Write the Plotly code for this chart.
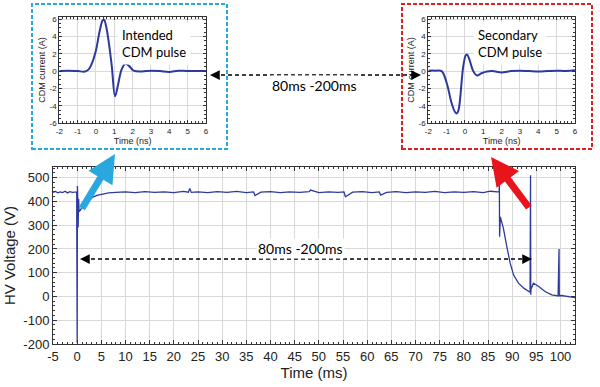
import plotly.graph_objects as go

# ---------------- data ----------------
main_t = [-5, -4.5, -4, -3.5, -3, -2.5, -2, -1.5, -1, -0.5, -0.1, 0, 0.05, 0.1, 0.15, 0.2, 0.3, 0.35, 0.4,
          0.6, 0.9, 1.3, 2, 2.7, 3.3, 4.3, 5.4, 6.5, 8, 10, 12, 14, 16, 18, 20, 22, 23, 23.3, 23.6,
          25, 27, 29, 31, 33, 35, 36.5, 36.8, 38, 40, 42, 44, 46, 48, 48.3, 50, 52, 54, 55.2, 55.5,
          57, 59, 61, 62.5, 62.8, 64, 66, 68, 70, 72, 74, 76, 78, 80, 82, 84, 85.5, 87, 87.3,
          87.35, 87.4, 87.55, 88.2, 88.9, 89.6, 90.3, 91.3, 92.4, 93.4, 93.7, 93.8, 93.85, 93.9,
          94.4, 95.5, 96.8, 98.2, 99.5, 99.7, 99.75, 99.8, 100.2, 101, 102, 103]
main_v = [438, 442, 436, 440, 437, 443, 436, 441, 438, 440, 440, -195, 465, 330, 400, 290, 410, 350, 358,
          362, 370, 385, 398, 410, 419, 427, 433, 436, 438, 440, 437, 441, 438, 440, 437, 442, 439, 455, 438,
          440, 437, 441, 438, 442, 437, 440, 425, 439, 441, 437, 440, 438, 441, 448, 437, 440, 438, 440, 420,
          439, 441, 437, 440, 427, 438, 441, 437, 440, 438, 442, 437, 440, 438, 441, 437, 443, 440, 440,
          482, 251, 335, 286, 209, 139, 90, 56, 35, 21, 18, 510, 7, 30,
          56, 42, 21, 7, 2, 200, 8, 3, 4, 0, -2, -5]

left_t = [-2, -1.5, -1, -0.6, -0.4, -0.2, 0.0, 0.2, 0.35, 0.44, 0.55, 0.7, 0.86, 1.04, 1.2, 1.4,
          1.6, 1.8, 2.05, 2.5, 3, 3.5, 4, 4.5, 5, 5.5, 6]
left_i = [0, 0.05, 0, -0.05, 0.2, 1.0, 2.4, 4.6, 5.8, 5.95, 5.2, 3.3, 0.6, -2.9, -1.6, 0.2,
          0.85, 0.6, 0.05, -0.05, 0.05, 0.0, -0.1, 0.05, 0.0, 0.0, 0.0]

right_t = [-2, -1.6, -1.27, -1.0, -0.73, -0.55, -0.45, -0.35, -0.27, -0.09, 0.05, 0.12, 0.24, 0.45,
           0.65, 0.9, 1.2, 1.5, 2, 2.5, 3, 3.5, 4, 4.5, 5, 5.5, 6]
right_i = [0.05, 0.05, 0, -1.35, -3.7, -4.7, -4.9, -4.5, -3.3, 0.6, 1.85, 1.9, 1.35, 0.0,
           -0.5, -0.25, -0.05, 0.0, -0.15, 0, 0.05, 0, -0.05, 0, 0.05, 0, 0.1]

main_xticks = list(range(-5, 101, 5))
main_yticks = list(range(-200, 501, 100))
inset_xticks = list(range(-2, 7))
inset_yticks = list(range(-6, 7, 2))

# ---------------- figure ----------------
W, H = 600, 387
def px(x):
    return x / W
def py(y):
    return 1 - y / H

LINE = "#2D3A9C"
GRID = "#d9d9d9"
TXT = "#222222"

fig = go.Figure()
fig.add_trace(go.Scatter(x=main_t, y=main_v, mode="lines", line=dict(color=LINE, width=1.3),
                         xaxis="x", yaxis="y", hoverinfo="skip"))
fig.add_trace(go.Scatter(x=left_t, y=left_i, mode="lines", line=dict(color=LINE, width=2, shape="spline"),
                         xaxis="x2", yaxis="y2", hoverinfo="skip"))
fig.add_trace(go.Scatter(x=right_t, y=right_i, mode="lines", line=dict(color=LINE, width=2, shape="spline"),
                         xaxis="x3", yaxis="y3", hoverinfo="skip"))

def ax_style(tickvals, rng, domain, anchor, fsize, tsize, title, tlen, mdt, standoff):
    return dict(range=rng, domain=domain, anchor=anchor, automargin=False,
                tickmode="array", tickvals=tickvals, ticktext=[str(v) for v in tickvals],
                showgrid=True, gridcolor=GRID, gridwidth=1, zeroline=False,
                showline=True, linecolor="#333333", linewidth=1, mirror="allticks",
                ticks="inside", ticklen=tlen, tickcolor="#333333",
                minor=dict(dtick=mdt, ticks="inside", ticklen=max(2, tlen - 2), tickcolor="#333333", showgrid=False),
                tickfont=dict(family="Liberation Sans, Arial", size=fsize, color=TXT),
                title=dict(text=title, font=dict(family="Liberation Sans, Arial", size=tsize, color=TXT),
                           standoff=standoff))

main_xd = [px(53), px(575)]
main_yd = [py(344), py(167)]
in1_xd = [px(59.3), px(206)]
in2_xd = [px(428.3), px(575)]
in_yd = [py(123), py(17)]

fig.update_layout(
    width=W, height=H, margin=dict(l=0, r=0, t=0, b=0, autoexpand=False),
    paper_bgcolor="white", plot_bgcolor="white", showlegend=False,
    xaxis=ax_style(main_xticks, [-5, 103], main_xd, "y", 13, 15, "Time (ms)", 4, 1, 2),
    yaxis=ax_style(main_yticks, [-200, 545], main_yd, "x", 13, 15, "HV Voltage (V)", 4, 20, 4),
    xaxis2=ax_style(inset_xticks, [-2, 6], in1_xd, "y2", 8, 9, "Time (ns)", 3, 0.2, 1),
    yaxis2=ax_style(inset_yticks, [-6, 6.25], in_yd, "x2", 8, 9, "CDM current (A)", 3, 0.5, 2),
    xaxis3=ax_style(inset_xticks, [-2, 6], in2_xd, "y3", 8, 9, "Time (ns)", 3, 0.2, 1),
    yaxis3=ax_style(inset_yticks, [-6, 6.25], in_yd, "x3", 8, 9, "CDM current (A)", 3, 0.5, 2),
)

shapes = [
    dict(type="rect", xref="paper", yref="paper", x0=px(32), x1=px(227), y0=py(149), y1=py(4),
         line=dict(color="#29A8E0", width=2, dash="4px,2px")),
    dict(type="rect", xref="paper", yref="paper", x0=px(402), x1=px(592), y0=py(149), y1=py(4),
         line=dict(color="#E02020", width=2, dash="4px,2px")),
    dict(type="line", xref="paper", yref="paper", x0=px(214), x1=px(416), y0=py(75), y1=py(75),
         line=dict(color="black", width=1.5, dash="4px,3px")),
    dict(type="line", xref="paper", yref="paper", x0=px(84), x1=px(528), y0=py(259), y1=py(259),
         line=dict(color="black", width=1.5, dash="4px,3px")),
]
fig.update_layout(shapes=shapes)

ann = []
TF = "Lato, Open Sans, sans-serif"
# dashed arrow heads
for (hx, hy, dx) in [(210, 75, 8), (421, 75, -8), (80, 259, 8), (532, 259, -8)]:
    ann.append(dict(xref="paper", yref="paper", x=px(hx), y=py(hy), ax=dx, ay=0, text="",
                    showarrow=True, arrowhead=2, arrowsize=1.3, arrowwidth=1.5, arrowcolor="black"))
ann.append(dict(xref="paper", yref="paper", x=px(314), y=py(75), text="80ms -200ms", showarrow=False,
                font=dict(family=TF, size=14, color="black"), bgcolor="white", borderpad=1))
ann.append(dict(xref="paper", yref="paper", x=px(300), y=py(259), text="80ms -200ms", showarrow=False,
                font=dict(family=TF, size=14, color="black"), bgcolor="white", borderpad=1))
# big coloured arrows
ann.append(dict(xref="paper", yref="paper", x=px(115), y=py(154), ax=81 - 115, ay=210 - 154, text="",
                showarrow=True, arrowhead=2, arrowsize=0.8, arrowwidth=7, arrowcolor="#29A8E0"))
ann.append(dict(xref="paper", yref="paper", x=px(491), y=py(157), ax=530 - 491, ay=209 - 157, text="",
                showarrow=True, arrowhead=2, arrowsize=0.8, arrowwidth=7, arrowcolor="#E8141B"))
# inset labels
ann.append(dict(xref="paper", yref="paper", x=px(117), y=py(22), xanchor="left", yanchor="top",
                text="Intended<br>CDM pulse", align="left", showarrow=False,
                font=dict(family=TF, size=13, color="black"), bgcolor="white", borderpad=4))
ann.append(dict(xref="paper", yref="paper", x=px(473), y=py(22), xanchor="left", yanchor="top",
                text="Secondary<br>CDM pulse", align="left", showarrow=False,
                font=dict(family=TF, size=13, color="black"), bgcolor="white", borderpad=4))
fig.update_layout(annotations=ann)

fig.write_html("out.html", config={"displayModeBar": False},
               post_script="document.body.style.margin='0px';document.body.style.padding='0px';document.body.style.overflow='hidden';")
